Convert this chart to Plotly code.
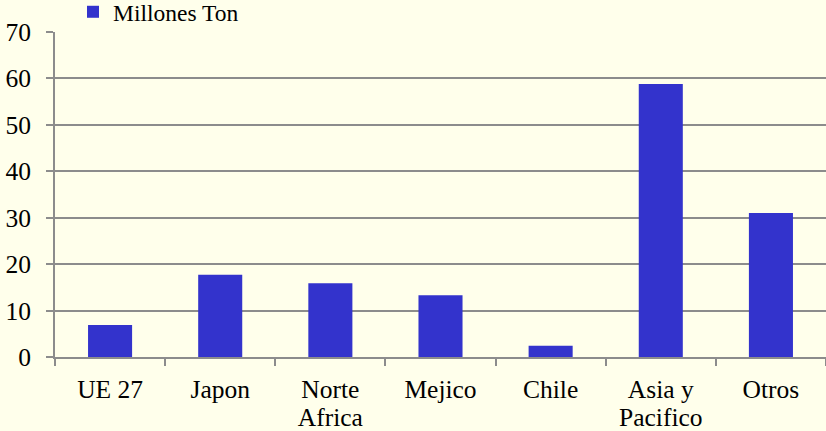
import plotly.graph_objects as go

categories_line1 = ["UE 27", "Japon", "Norte", "Mejico", "Chile", "Asia y", "Otros"]
categories_line2 = ["", "", "Africa", "", "", "Pacifico", ""]
values = [6.9, 17.7, 15.9, 13.3, 2.4, 58.8, 31.0]
series_name = "Millones Ton"
y_ticks = [0, 10, 20, 30, 40, 50, 60, 70]

bg = "#FFFFEB"
bar_color = "#3333CC"
grid = "#8C8C8C"
font = "Liberation Serif, Times New Roman, serif"
tick_size = 25.5
n = len(categories_line1)
xs = list(range(n))

fig = go.Figure()
fig.add_trace(go.Bar(
    x=xs, y=values, name=series_name,
    marker=dict(color=bar_color, line=dict(width=0)), width=0.4,
))
# invisible helper traces for boundary tick marks and second label lines
for ax in ("x2", "x3"):
    fig.add_trace(go.Scatter(x=[-0.5, n - 0.5], y=[0, 0], xaxis=ax,
                             mode="markers", marker=dict(opacity=0), showlegend=False,
                             hoverinfo="skip"))

fig.update_layout(
    width=826, height=431,
    paper_bgcolor=bg, plot_bgcolor=bg,
    margin=dict(l=55, r=0, t=32, b=74, autoexpand=False),
    font=dict(family=font, size=tick_size, color="#000000"),
    showlegend=True,
    legend=dict(orientation="h", xref="container", x=73 / 826, xanchor="left",
                yref="container", y=1 - 12 / 431, yanchor="middle",
                font=dict(size=23.5), bgcolor="rgba(0,0,0,0)", borderwidth=0,
                itemwidth=30),
    xaxis=dict(
        range=[-0.5, n - 0.5],
        tickvals=xs, ticktext=categories_line1,
        ticks="", showgrid=False, zeroline=False,
        showline=True, linecolor=grid, linewidth=2,
        ticklabelstandoff=8,
    ),
    xaxis2=dict(
        range=[-0.5, n - 0.5], overlaying="x", side="bottom",
        tickvals=[i - 0.5 for i in range(n + 1)],
        showticklabels=False, ticks="outside", ticklen=8, tickwidth=2,
        tickcolor=grid, showgrid=False, zeroline=False, showline=False,
    ),
    xaxis3=dict(
        range=[-0.5, n - 0.5], overlaying="x", side="bottom",
        tickvals=xs, ticktext=categories_line2,
        ticks="", showgrid=False, zeroline=False, showline=False,
        ticklabelstandoff=42,
    ),
    yaxis=dict(
        range=[0, 70], tickvals=y_ticks,
        ticks="outside", ticklen=7, tickwidth=2, tickcolor=grid,
        showgrid=True, gridcolor=grid, gridwidth=2,
        showline=True, linecolor=grid, linewidth=2, zeroline=False,
        ticklabelstandoff=10,
    ),
    bargap=0.6,
)

fig.write_html("out.html", config={"displayModeBar": False},
               post_script="document.body.style.margin='0';document.body.style.background='%s';" % bg)
